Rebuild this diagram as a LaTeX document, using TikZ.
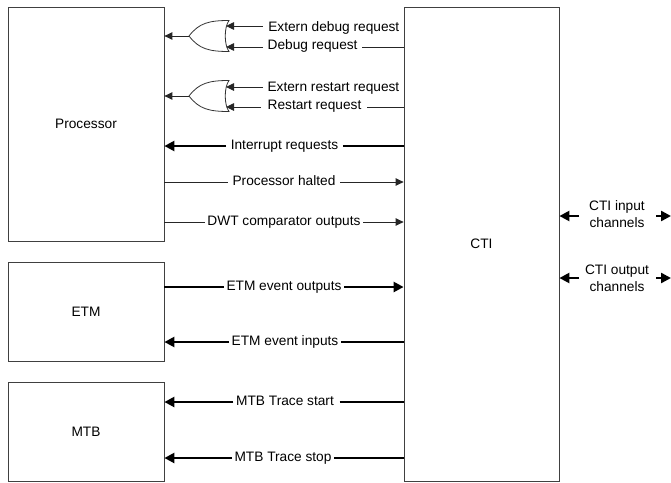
\documentclass[tikz,border=0pt]{standalone}
\usepackage{fontspec}
\setmainfont{Liberation Sans}
\usetikzlibrary{arrows.meta}
\tikzset{
  blk/.style={draw=black!75,line width=0.8pt,minimum width=156pt,inner sep=0pt,font=\fontsize{13.7}{16}\selectfont},
  lbl/.style={font=\fontsize{13.7}{16}\selectfont,inner xsep=2.5pt,inner ysep=1pt,anchor=center,text height=10pt,text depth=3pt},
  lbltwo/.style={font=\fontsize{13.7}{17}\selectfont,inner sep=1pt,align=center},
  sig/.style={draw=black!85,line width=0.9pt},
  bus/.style={draw=black,line width=2.4pt},
  hd/.style={-{Triangle[length=8pt,width=7.5pt]}},
  bhd/.style={-{Triangle[length=10pt,width=10pt]}},
  gate/.style={draw=black!80,line width=0.8pt},
}
\newcommand{\orgate}[3]{%
  \coordinate (#1tip) at (#2,#3);
  \coordinate (#1a) at (#2+37,#3-10);
  \coordinate (#1b) at (#2+37,#3+11);
  \draw[gate] (#2,#3) .. controls (#2+10,#3-13) and (#2+20,#3-15.5) .. (#2+40,#3-15.5)
     .. controls (#2+35,#3-9) and (#2+35,#3+9) .. (#2+40,#3+15.5)
     .. controls (#2+20,#3+15.5) and (#2+10,#3+13) .. (#2,#3);
}
\begin{document}
\begin{tikzpicture}[x=1pt,y=-1pt]
\useasboundingbox (0,0) rectangle (671,482);
\node[blk,minimum height=234pt] (proc) at (86,124) {Processor};
\node[blk,minimum height=99pt] (etm) at (86,311.5) {ETM};
\node[blk,minimum height=99pt] (mtb) at (86,431.5) {MTB};
\node[blk,minimum width=155pt,minimum height=474pt] (cti) at (481.5,244) {CTI};

\orgate{ga}{189}{36}
\orgate{gb}{189}{96}
\draw[sig,hd] (gatip) -- (gatip -| proc.east);
\draw[sig,hd] (gbtip) -- (gbtip -| proc.east);

\node[lbl,anchor=east] (ed) at (402,28) {Extern debug request};
\node[lbl,anchor=west] (dr) at (265,46) {Debug request};
\node[lbl,anchor=east] (er) at (402,88) {Extern restart request};
\node[lbl,anchor=west] (rr) at (265,106) {Restart request};
\coordinate (edp) at (263,26);
\coordinate (drp) at (263,47);
\coordinate (erp) at (263,87);
\coordinate (rrp) at (261,107);
\coordinate (drr) at (362,47);
\coordinate (rrr) at (367,107);
\draw[sig,hd] (edp) -- (edp -| gaa);
\draw[sig,hd] (drp) -- (drp -| gab);
\draw[sig,hd] (erp) -- (erp -| gba);
\draw[sig,hd] (rrp) -- (rrp -| gbb);
\draw[sig] (drr -| cti.west) -- (drr);
\draw[sig] (rrr -| cti.west) -- (rrr);

\node[lbl] (ir) at (284.5,146) {Interrupt requests};
\draw[bus,bhd] (ir.west) ++(-2,0) -- (ir.west -| proc.east);
\draw[bus] (ir.east) ++(2,0) -- (ir.east -| cti.west);

\node[lbl] (ph) at (284,182) {Processor halted};
\draw[sig] (ph.west) ++(-2,0) -- (ph.west -| proc.east);
\draw[sig,hd] (ph.east) ++(2,0) -- (ph.east -| cti.west);

\node[lbl] (dw) at (284,222) {DWT comparator outputs};
\draw[sig] (dw.west) -- (dw.west -| proc.east);
\draw[sig,hd] (dw.east) -- (dw.east -| cti.west);

\node[lbl] (eo) at (284,287) {ETM event outputs};
\draw[bus] (eo.west) -- (eo.west -| etm.east);
\draw[bus,bhd] (eo.east) -- (eo.east -| cti.west);

\node[lbl] (ei) at (285,342) {ETM event inputs};
\draw[bus,bhd] (ei.west) -- (ei.west -| etm.east);
\draw[bus] (ei.east) -- (ei.east -| cti.west);

\node[lbl] (ms) at (285,402) {MTB Trace start};
\draw[bus,bhd] (ms.west) -- (ms.west -| mtb.east);
\draw[bus] (ms.east) ++(3,0) -- (ms.east -| cti.west);

\node[lbl] (mt) at (283,458) {MTB Trace stop};
\draw[bus,bhd] (mt.west) -- (mt.west -| mtb.east);
\draw[bus] (mt.east) -- (mt.east -| cti.west);

\node[lbltwo] (ci) at (617,214.5) {CTI input\\channels};
\node[lbltwo] (co) at (617,278.5) {CTI output\\channels};
\coordinate (cil) at (579,216);
\coordinate (cir) at (656,216);
\coordinate (ciend) at (671,216);
\coordinate (col) at (579,278);
\coordinate (cor) at (656,278);
\coordinate (coend) at (671,278);
\draw[bus,bhd] (cil) -- (cil -| cti.east);
\draw[bus,bhd] (cir) -- (ciend);
\draw[bus,bhd] (col) -- (col -| cti.east);
\draw[bus,bhd] (cor) -- (coend);
\end{tikzpicture}
\end{document}
